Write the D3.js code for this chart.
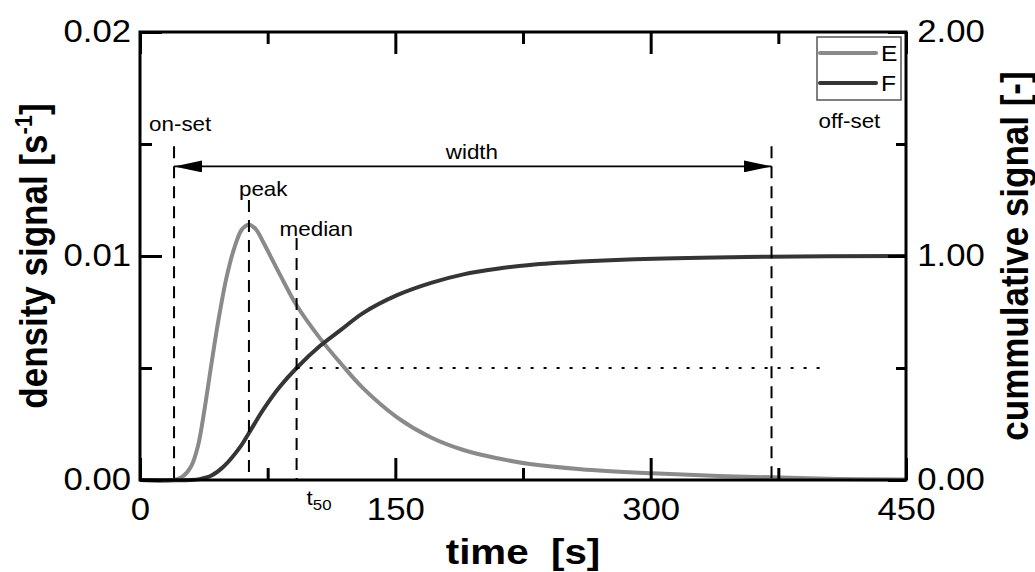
<!DOCTYPE html>
<html>
<head>
<meta charset="utf-8">
<script src="https://cdn.jsdelivr.net/npm/d3@7"></script>
<style>
  body { margin: 0; background: #fff; }
  svg { display: block; font-family: "Liberation Sans", Arial, sans-serif; }
</style>
</head>
<body>
<svg width="1035" height="572"></svg>
<script>
// density curve E
const timeE = [0, 20, 25, 30, 34, 38, 42, 46, 51, 56, 60, 64, 68, 72.5, 82, 92, 106, 118, 131, 151, 171, 190, 210, 229, 259, 301, 340, 371, 410, 450];
const densE = [0, 0, 0.00015, 0.0006, 0.0015, 0.0032, 0.0052, 0.0071, 0.0091, 0.0105, 0.0112, 0.0114, 0.0112, 0.0106, 0.0092, 0.0078, 0.0063, 0.0052, 0.0041, 0.0028, 0.0019, 0.00134, 0.00097, 0.00071, 0.00048, 0.0003, 0.00018, 0.00012, 0.00005, 0.00002];

// cumulative curve F
const timeF = [0, 30, 35, 42, 49, 59, 64, 72.5, 82, 92, 106, 118, 131, 151, 171, 190, 210, 229, 259, 302, 370, 450];
const cumF = [0, 0, 0.004, 0.02, 0.059, 0.149, 0.21, 0.315, 0.415, 0.5, 0.6, 0.67, 0.745, 0.825, 0.88, 0.918, 0.943, 0.96, 0.975, 0.988, 0.997, 1.0];

// ticks
const xMajor = [0, 150, 300, 450];
const xMinor = [75, 225, 375];
const yLMajor = [0, 0.01, 0.02];
const yLMinor = [0.005, 0.015];
const yRMajor = [0, 1, 2];
const yRMinor = [0.5, 1.5];

// characteristic times
const markNames = ["on-set", "peak", "median", "off-set"];
const markTimes = [20, 64, 92, 371];
const markTops = [0.0149, 0.0125, 0.0108, 0.0149];   // where dashed lines start (left axis units)
const widthLevel = 0.014;
const halfLevel = 0.5;       // F = 0.5 dotted line
const halfEnd = 401;

const legendNames = ["E", "F"];
const colE = "#8a8a8a", colF = "#353535";
const SX = 1.12; // the picture is a bit wider than tall

var margin = { left: 140, top: 32, right: 129, bottom: 92 };
var width = 1035 - margin.left - margin.right;
var height = 572 - margin.top - margin.bottom;

var svg = d3.select("svg");

var x = d3.scaleLinear().domain([0, 450]).range([margin.left, margin.left + width]);
var yL = d3.scaleLinear().domain([0, 0.02]).range([margin.top + height, margin.top]);
var yR = d3.scaleLinear().domain([0, 2]).range([margin.top + height, margin.top]);

function styleAxis(g, fs) {
  g.select(".domain").remove();
  g.selectAll("line").attr("stroke", "#000").attr("stroke-width", 3);
  g.selectAll("text").attr("font-size", fs).attr("fill", "#000")
   .attr("font-family", "Liberation Sans, Arial, sans-serif");
}

// curves
var lineE = d3.line().x((d, i) => x(timeE[i])).y(d => yL(d)).curve(d3.curveCatmullRom.alpha(0.5));
var lineF = d3.line().x((d, i) => x(timeF[i])).y(d => yR(d)).curve(d3.curveCatmullRom.alpha(0.5));

svg.append("path").attr("d", lineE(densE)).attr("fill", "none")
   .attr("stroke", colE).attr("stroke-width", 4);
svg.append("path").attr("d", lineF(cumF)).attr("fill", "none")
   .attr("stroke", colF).attr("stroke-width", 4);

// dashed markers
markTimes.forEach(function(t, i) {
  svg.append("line")
     .attr("x1", x(t)).attr("x2", x(t))
     .attr("y1", yL(markTops[i])).attr("y2", yL(0))
     .attr("stroke", "#000").attr("stroke-width", 2)
     .attr("stroke-dasharray", "12,8");
});

// dotted half line
svg.append("line")
   .attr("x1", x(markTimes[2])).attr("x2", x(halfEnd))
   .attr("y1", yR(halfLevel)).attr("y2", yR(halfLevel))
   .attr("stroke", "#000").attr("stroke-width", 2)
   .attr("stroke-dasharray", "3,10");

// width arrow
var defs = svg.append("defs");
defs.append("marker").attr("id", "arr")
    .attr("viewBox", "0 0 28 12").attr("refX", 28).attr("refY", 6)
    .attr("markerWidth", 28).attr("markerHeight", 12)
    .attr("markerUnits", "userSpaceOnUse").attr("orient", "auto-start-reverse")
    .append("path").attr("d", "M0,0 L28,6 L0,12 Z").attr("fill", "#000");

svg.append("line")
   .attr("x1", x(markTimes[0])).attr("x2", x(markTimes[3]))
   .attr("y1", yL(widthLevel)).attr("y2", yL(widthLevel))
   .attr("stroke", "#000").attr("stroke-width", 1.6)
   .attr("marker-start", "url(#arr)").attr("marker-end", "url(#arr)");

// axes: bottom / top
var gB = svg.append("g").attr("transform", "translate(0," + (margin.top + height) + ")")
  .call(d3.axisBottom(x).tickValues(xMajor).tickSize(-22).tickPadding(18).tickFormat(d3.format("d")));
styleAxis(gB, 31);
gB.selectAll("text").attr("transform", "scale(" + SX + ",1)");
var gBm = svg.append("g").attr("transform", "translate(0," + (margin.top + height) + ")")
  .call(d3.axisBottom(x).tickValues(xMinor).tickSize(-12).tickFormat(""));
styleAxis(gBm, 0);

var gT = svg.append("g").attr("transform", "translate(0," + margin.top + ")")
  .call(d3.axisTop(x).tickValues(xMajor).tickSize(-22).tickFormat(""));
styleAxis(gT, 0);
var gTm = svg.append("g").attr("transform", "translate(0," + margin.top + ")")
  .call(d3.axisTop(x).tickValues(xMinor).tickSize(-12).tickFormat(""));
styleAxis(gTm, 0);

// left / right
var gL = svg.append("g").attr("transform", "translate(" + margin.left + ",0)")
  .call(d3.axisLeft(yL).tickValues(yLMajor).tickSize(-22).tickPadding(8).tickFormat(d3.format(".2f")));
styleAxis(gL, 31);
gL.selectAll("text").attr("transform", "scale(" + SX + ",1)");
var gLm = svg.append("g").attr("transform", "translate(" + margin.left + ",0)")
  .call(d3.axisLeft(yL).tickValues(yLMinor).tickSize(-12).tickFormat(""));
styleAxis(gLm, 0);

var gR = svg.append("g").attr("transform", "translate(" + (margin.left + width) + ",0)")
  .call(d3.axisRight(yR).tickValues(yRMajor).tickSize(-18).tickPadding(10).tickFormat(d3.format(".2f")));
styleAxis(gR, 31);
gR.selectAll("text").attr("transform", "scale(" + SX + ",1)");
var gRm = svg.append("g").attr("transform", "translate(" + (margin.left + width) + ",0)")
  .call(d3.axisRight(yR).tickValues(yRMinor).tickSize(-10).tickFormat(""));
styleAxis(gRm, 0);

// frame
svg.append("rect")
   .attr("x", margin.left).attr("y", margin.top)
   .attr("width", width).attr("height", height)
   .attr("fill", "none").attr("stroke", "#000").attr("stroke-width", 3);

// text helper (horizontally stretched like the picture)
function label(px, py, txt, fs, anchor) {
  return svg.append("text")
    .attr("transform", "translate(" + px + "," + py + ") scale(" + SX + ",1)")
    .attr("font-size", fs).attr("text-anchor", anchor || "start")
    .attr("fill", "#000").text(txt);
}

// annotations
label(x(markTimes[0]) - 25, 131, markNames[0], 20);
label(x(markTimes[1]) - 10, 196, markNames[1], 20);
label(x(markTimes[2]) - 17, 236, markNames[2], 20);
label(x(markTimes[3]) + 47, 128, markNames[3], 20);
label((x(markTimes[0]) + x(markTimes[3])) / 2 - 27, 159, "width", 20);

var t50 = label(x(markTimes[2]) + 10, 505, "t", 20);
t50.append("tspan").attr("font-size", 15).attr("dy", 5).text("50");

// legend
var lg = svg.append("g");
lg.append("rect").attr("x", 817).attr("y", 37).attr("width", 84).attr("height", 63)
  .attr("fill", "#fff").attr("stroke", "#555").attr("stroke-width", 1.5);
[colE, colF].forEach(function(c, i) {
  lg.append("line").attr("x1", 820).attr("x2", 876)
    .attr("y1", 53 + i * 30).attr("y2", 53 + i * 30)
    .attr("stroke", c).attr("stroke-width", 4).attr("stroke-linecap", "round");
  label(881, 61 + i * 30, legendNames[i], 22);
});

// axis titles
var cx = (margin.left * 2 + width) / 2;
svg.append("text")
   .attr("transform", "translate(" + cx + ",564) scale(" + SX + ",1)")
   .attr("text-anchor", "middle").attr("font-size", 36).attr("font-weight", "bold")
   .style("white-space", "pre")
   .text("time  [s]");

var yt = svg.append("text")
   .attr("transform", "translate(47," + (margin.top + height / 2) + ") rotate(-90) scale(1," + SX + ")")
   .attr("text-anchor", "middle").attr("font-size", 35).attr("font-weight", "bold");
yt.append("tspan").text("density signal [s");
yt.append("tspan").attr("font-size", 22).attr("dy", -13).text("-1");
yt.append("tspan").attr("dy", 13).text("]");

svg.append("text")
   .attr("transform", "translate(1028," + (margin.top + height / 2) + ") rotate(-90) scale(1," + SX + ")")
   .attr("text-anchor", "middle").attr("font-size", 35).attr("font-weight", "bold")
   .text("cummulative signal [-]");
</script>
</body>
</html>
